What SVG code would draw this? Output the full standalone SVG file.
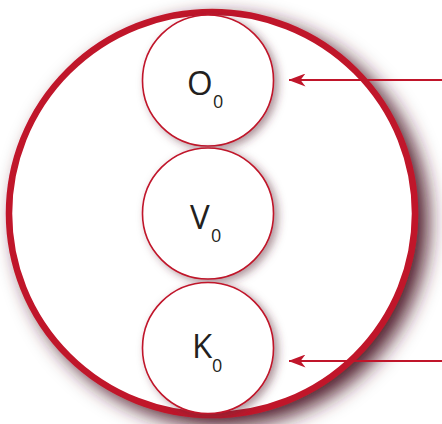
<svg xmlns="http://www.w3.org/2000/svg" width="442" height="424" viewBox="0 0 442 424">
<defs>
<filter id="sh" x="-20%" y="-20%" width="150%" height="150%">
<feDropShadow dx="10" dy="8" stdDeviation="10" flood-color="#4f1f2b" flood-opacity="1"/>
</filter>
<filter id="shs" x="-30%" y="-30%" width="170%" height="170%">
<feDropShadow dx="4" dy="3" stdDeviation="4" flood-color="#5c2a35" flood-opacity="0.5"/>
</filter>
<marker id="ah" viewBox="0 0 17 13" refX="16.5" refY="6.5" markerWidth="17" markerHeight="13" markerUnits="userSpaceOnUse" orient="auto">
<path d="M0,0 L17,6.5 L0,13 L5,6.5 Z" fill="#c0152a"/>
</marker>
<style>
.node{fill:#fff;stroke:#c0152a;stroke-width:1.6}
.lbl{font-family:"Open Sans","Noto Sans",sans-serif;fill:#231f20}
.big{font-size:33px}
.sub{font-size:18px}
.conn{fill:none;stroke:#c0152a;stroke-width:1.8}
</style>
</defs>
<rect width="442" height="424" fill="#fff"/>
<g id="outer">
<ellipse cx="212" cy="213.5" rx="203" ry="201.5" fill="#fff" stroke="#c0152a" stroke-width="6.5" filter="url(#sh)"/>
</g>
<g id="node-O0">
<circle class="node" cx="208" cy="80.5" r="65.5" filter="url(#shs)"/>
<text class="lbl" x="187" y="95"><tspan class="big">O</tspan><tspan class="sub" x="213" y="108">0</tspan></text>
</g>
<g id="node-V0">
<circle class="node" cx="208" cy="213.5" r="65.5" filter="url(#shs)"/>
<text class="lbl" x="190" y="229"><tspan class="big">V</tspan><tspan class="sub" x="211" y="242">0</tspan></text>
</g>
<g id="node-K0">
<circle class="node" cx="208" cy="348" r="65.5" filter="url(#shs)"/>
<text class="lbl" x="192" y="358"><tspan class="big">K</tspan><tspan class="sub" x="212" y="372">0</tspan></text>
</g>
<g id="connectors">
<path class="conn" d="M442.9,80 V361"/>
<path class="conn" d="M443,80 H289" marker-end="url(#ah)"/>
<path class="conn" d="M443,361 H289" marker-end="url(#ah)"/>
</g>
</svg>
